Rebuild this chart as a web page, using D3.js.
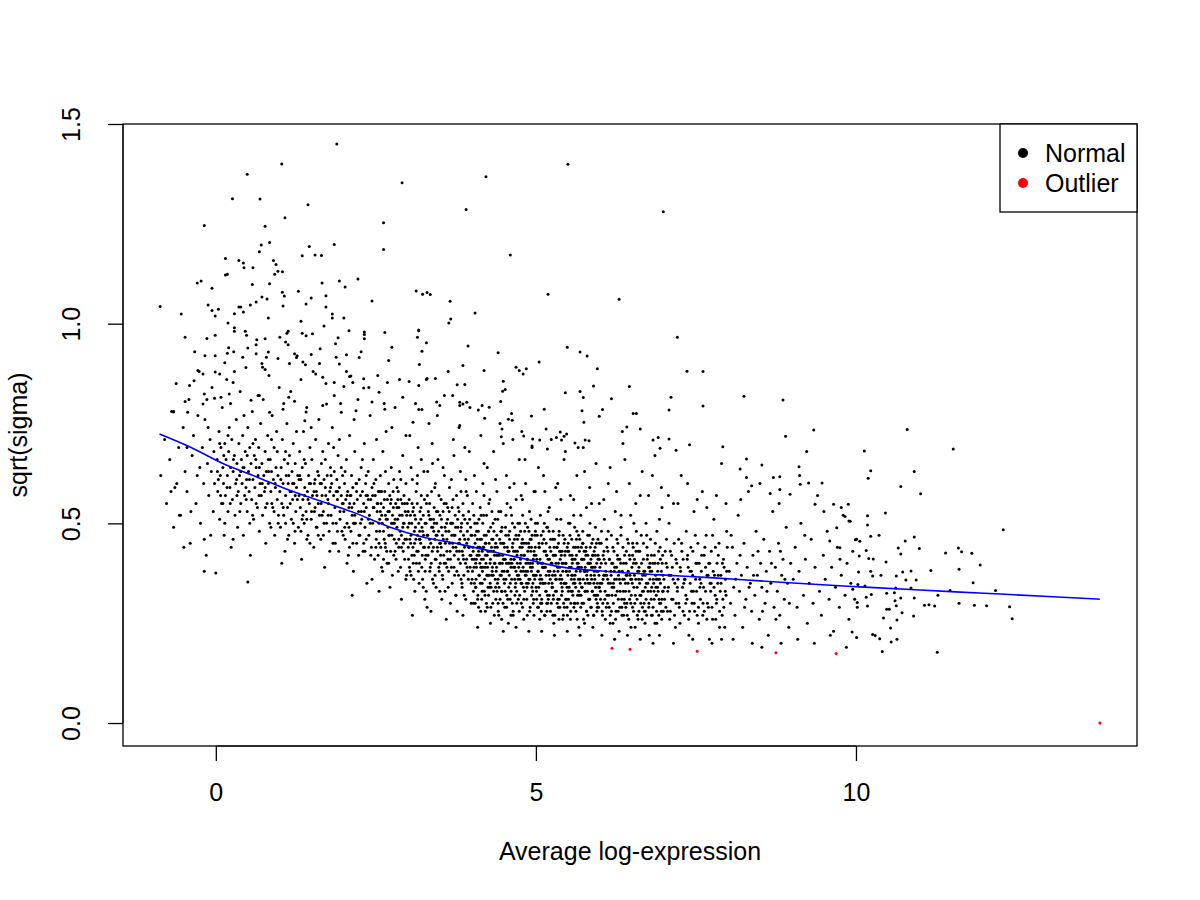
<!DOCTYPE html>
<html>
<head>
<meta charset="utf-8">
<script src="https://cdn.jsdelivr.net/npm/d3@7"></script>
<style>
  body { margin: 0; background: #fff; }
  text { font-family: "Liberation Sans", Arial, Helvetica, sans-serif; }
</style>
</head>
<body>
<div id="sa_plot"></div>
<script>
/* data: [average log-expression, sqrt(sigma)] */

// scattered genes well above the trend
var normalSparse = [
[1.89,1.450],[1.03,1.400],[0.49,1.374],[2.91,1.353],[0.26,1.313],[0.69,1.312],[1.44,1.298],[1.08,1.265],[-0.18,1.246],[0.77,1.244],
[2.62,1.253],[0.71,1.197],[0.84,1.203],[0.68,1.180],[1.46,1.193],[1.85,1.198],[2.62,1.186],[1.35,1.170],[1.55,1.172],[1.65,1.171],
[0.15,1.163],[0.36,1.158],[0.43,1.152],[0.44,1.140],[0.58,1.140],[0.90,1.158],[0.94,1.148],[0.15,1.122],[0.18,1.124],[-0.29,1.102],
[-0.23,1.107],[-0.06,1.089],[0.57,1.098],[0.84,1.100],[0.92,1.124],[0.97,1.131],[1.04,1.130],[1.66,1.102],[1.93,1.107],[2.02,1.092],
[2.22,1.112],[1.04,1.079],[1.07,1.069],[1.29,1.081],[1.49,1.064],[1.72,1.070],[2.44,1.057],[3.13,1.082],[3.23,1.074],[3.30,1.078],
[3.35,1.073],[3.66,1.056],[3.67,1.012],[3.64,1.002],[-0.87,1.043],[-0.54,1.024],[-0.12,1.047],[-0.06,1.033],[0.04,1.036],[-0.01,1.019],
[0.36,1.042],[0.39,1.042],[0.54,1.047],[0.63,1.054],[0.72,1.067],[0.80,1.062],[1.05,1.044],[1.41,1.049],[1.72,1.042],[0.29,1.025],
[0.43,1.029],[0.82,1.014],[1.33,1.006],[1.82,1.024],[1.82,1.014],[2.00,1.014],[1.69,0.994],[0.19,1.002],[-0.48,0.966],[-0.14,0.963],
[-0.01,0.971],[0.29,0.981],[0.46,0.981],[0.48,0.971],[0.77,0.962],[1.00,0.966],[1.11,0.976],[1.13,0.981],[1.35,0.976],[1.51,0.975],
[1.91,0.965],[2.08,0.982],[2.32,0.979],[2.32,0.973],[2.64,0.978],[3.17,0.982],[3.15,0.966],[3.29,0.952],
[5.50,1.399],[4.22,1.368],[3.91,1.286],[6.99,1.280],[4.60,1.172],[5.19,1.074],[6.30,1.061],[4.05,1.027],[7.21,0.966],
[10.80,0.735],[11.52,0.686],[10.13,0.681],[10.23,0.632],[10.19,0.613],[10.91,0.630],[10.70,0.592],[11.01,0.574],[10.46,0.526],[10.18,0.519],
[10.18,0.496],[12.30,0.484],[9.91,0.505],[9.99,0.459],[10.06,0.455],[10.23,0.468],[10.36,0.470],[10.91,0.466],[10.77,0.456],[10.16,0.432],
[10.66,0.438],[10.70,0.423],[10.99,0.437],[11.40,0.426],[11.60,0.438],[11.65,0.429],[11.81,0.425],[10.05,0.418],[10.20,0.412],[10.27,0.411],
[10.47,0.403],[11.94,0.396],[11.61,0.385],[11.17,0.382],[10.04,0.378],[10.23,0.380],[10.26,0.368],[10.39,0.370],[10.63,0.368],[10.73,0.378],
[10.86,0.381],[10.78,0.358],[10.94,0.358],[11.83,0.351],[10.03,0.347],[10.14,0.343],[10.62,0.338],[10.86,0.338],[11.47,0.332],[12.18,0.332],
[9.95,0.335],[10.24,0.322],[10.16,0.315],[10.48,0.325],[10.60,0.326],[10.70,0.313],[10.91,0.313],[11.28,0.320],[10.61,0.306],[10.63,0.294],
[10.02,0.302],[10.02,0.290],[10.18,0.293],[10.48,0.285],[10.52,0.285],[10.72,0.276],[10.90,0.268],[11.07,0.295],[11.14,0.296],[11.23,0.293],
[11.61,0.300],[11.85,0.295],[12.04,0.294],[12.40,0.291],[12.44,0.261],[10.43,0.263],[10.64,0.258],[10.54,0.238],[9.94,0.228],[10.01,0.214],
[10.26,0.222],[10.30,0.219],[10.37,0.211],[10.55,0.203],[10.64,0.210],[10.41,0.179],[11.27,0.177],
[3.94,0.944],[5.49,0.941],[4.41,0.927],[5.69,0.929],[5.80,0.919],[3.86,0.895],[4.19,0.883],[4.69,0.891],[4.74,0.883],[4.85,0.887],
[4.80,0.874],[5.05,0.904],[5.96,0.887],[7.36,0.881],[7.61,0.880],[3.89,0.848],[4.49,0.856],[4.52,0.835],[4.48,0.831],[5.46,0.827],
[5.69,0.830],[5.90,0.844],[6.46,0.843],[5.74,0.815],[6.18,0.812],[7.11,0.816],[8.25,0.818],[8.86,0.809],[4.45,0.805],[3.81,0.803],
[3.86,0.799],[3.92,0.803],[4.10,0.784],[4.16,0.795],[4.27,0.791],[4.57,0.761],[4.63,0.758],[4.62,0.775],[4.20,0.763],[4.93,0.769],
[5.13,0.786],[5.72,0.782],[6.04,0.785],[5.99,0.768],[6.52,0.775],[6.57,0.775],[7.08,0.784],[7.61,0.794],[5.75,0.753],[3.81,0.745],
[6.42,0.741],[6.35,0.730],[6.63,0.736],[9.34,0.734],[8.90,0.718],[4.47,0.736],[4.78,0.730],[5.16,0.736],[5.38,0.729],[5.48,0.724],
[4.46,0.717],[4.81,0.719],[4.95,0.711],[4.94,0.694],[5.06,0.709],[5.18,0.686],[5.32,0.715],[5.44,0.718],[5.40,0.709],[5.61,0.701],
[5.66,0.690],[5.77,0.709],[5.83,0.707],[6.83,0.709],[6.91,0.715],[7.08,0.711],[6.94,0.688],[7.19,0.683],[7.40,0.697],[7.92,0.692],
[9.23,0.680],[8.29,0.661],[8.19,0.636],[8.53,0.646],[9.11,0.642],[8.81,0.617],[8.71,0.615],[9.12,0.620],[9.26,0.601],[9.47,0.601],
[9.13,0.598],[8.29,0.615],[8.37,0.594],[8.66,0.575],[8.81,0.585],[8.97,0.573],[9.36,0.548],[9.65,0.548],[9.88,0.548],[9.77,0.540],
[9.83,0.517],[9.89,0.506],[9.70,0.489],[10.01,0.460],[9.59,0.456],[9.75,0.439],
[2.70,0.908],[2.75,0.941],[3.17,0.984],[3.22,0.931],[3.18,0.898],[3.02,0.855],[3.17,0.845],[3.30,0.863],[3.43,0.863],[3.77,0.847],
[3.70,0.820],[2.92,0.816],[2.55,0.828],[2.68,0.853],[2.31,0.862],[2.31,0.839],[2.09,0.868],[2.00,0.843],[1.85,0.853],[2.24,0.915],
[2.32,0.962],[2.44,0.804],[3.45,0.804],[3.50,0.795],[3.81,0.795],[3.17,0.785],[3.22,0.785],[3.08,0.753],[2.64,0.786],[2.19,0.782],
[1.96,0.778],[1.67,0.795],[1.73,0.799],[1.41,0.779],[1.39,0.757],[1.14,0.816],[1.23,0.806],[1.05,0.786],[0.84,0.778],[0.55,0.808],
[0.68,0.820],[0.21,0.824],[0.08,0.816],[-0.02,0.813],[-0.18,0.824],[-0.20,0.799],[-0.41,0.845],[-0.48,0.805],[-0.44,0.778],[-0.66,0.779],
[-0.28,0.883],[-0.20,0.874],[-0.34,0.857],[-0.17,0.920],[-0.01,0.879],[0.06,0.874],[0.14,0.902],[0.27,0.853],[0.29,0.880],[0.18,0.926],
[0.20,0.940],[0.42,0.916],[0.50,0.939],[0.63,0.925],[0.63,0.947],[0.73,0.891],[0.77,0.885],[0.82,0.929],[0.79,0.916],[0.97,0.913],
[1.09,0.954],[1.13,0.947],[1.23,0.925],[1.26,0.915],[1.36,0.904],[1.40,0.897],[1.56,0.874],[1.67,0.866],[1.49,0.923],[1.63,0.937],
[1.88,0.916],[1.93,0.899],[2.04,0.922],[2.11,0.869],[2.14,0.853],
[-0.66,0.78],[-0.64,0.59],[-0.57,0.52],[-0.18,0.46],[0.0,0.376],[0.5,0.353]
];

// main cloud around the trend
var normalCore = [
[-0.86,0.62],[-0.8,0.71],[-0.77,0.55],[-0.72,0.66],[-0.69,0.78],[-0.66,0.49],[-0.61,0.6],[-0.58,0.69],[-0.55,0.52],[-0.51,0.74],[-0.48,0.63],[-0.45,0.58],[-0.42,0.81],[-0.4,0.45],[-0.37,0.67],[-0.35,0.72],[-0.31,0.55],[-0.29,0.62],[-0.26,0.88],[-0.24,0.5],[-0.21,0.69],[-0.19,0.6],[-0.17,0.76],[-0.15,0.42],[-0.13,0.65],[-0.11,0.57],[-0.09,0.71],[-0.07,0.63],[-0.06,0.84],[-0.04,0.53],[-0.03,0.68],[-0.02,0.6],[-0.01,0.92],[-0.33,0.93],[-0.62,0.85],[-0.18,0.38],[-0.5,0.44],[-0.28,0.77],[-0.08,0.47],[-0.45,0.69],[-0.14,0.81],[-0.7,0.58],[-0.25,0.64],[-0.39,0.53],[-0.12,0.74],
[0.02,0.66],[0.03,0.58],[0.05,0.73],[0.06,0.51],[0.07,0.62],[0.08,0.69],[0.09,0.55],[0.1,0.79],[0.11,0.64],[0.12,0.6],[0.13,0.47],[0.14,0.7],[0.15,0.57],[0.16,0.66],[0.17,0.86],[0.18,0.62],[0.19,0.53],[0.2,0.68],[0.21,0.74],[0.22,0.59],[0.23,0.64],[0.24,0.44],[0.25,0.71],[0.26,0.56],[0.27,0.63],[0.28,0.93],[0.29,0.67],[0.3,0.52],[0.31,0.6],[0.32,0.76],[0.33,0.65],[0.34,0.49],[0.35,0.58],[0.36,0.7],[0.37,0.62],[0.38,0.83],[0.39,0.55],[0.4,0.66],[0.41,0.6],[0.42,0.72],[0.43,0.47],[0.44,0.64],[0.45,0.57],[0.46,0.68],[0.47,0.89],[0.48,0.61],[0.49,0.53],[0.5,0.74],[0.51,0.63],[0.52,0.58],[0.53,0.69],[0.54,0.42],[0.55,0.65],[0.56,0.56],[0.57,0.78],[0.58,0.61],[0.59,0.51],[0.6,0.67],[0.61,0.59],[0.62,0.71],[0.63,0.64],[0.64,0.96],[0.65,0.54],[0.66,0.62],[0.67,0.69],[0.68,0.48],[0.69,0.6],[0.7,0.75],[0.71,0.57],[0.72,0.65],[0.73,0.52],[0.74,0.81],[0.75,0.62],[0.76,0.58],[0.77,0.68],[0.78,0.45],[0.79,0.63],[0.8,0.55],[0.81,0.72],[0.82,0.6],[0.83,0.87],[0.84,0.5],[0.85,0.66],[0.86,0.58],[0.87,0.63],[0.88,0.77],[0.89,0.54],[0.9,0.61],[0.91,0.69],[0.92,0.47],[0.93,0.59],[0.94,0.64],[0.95,0.73],[0.96,0.56],[0.97,0.62],[0.98,0.52],[0.99,0.84],
[0.04,0.61],[0.14,0.5],[0.23,0.8],[0.33,0.57],[0.44,0.77],[0.53,0.5],[0.63,0.55],[0.72,0.9],[0.82,0.66],[0.91,0.53],[0.19,0.72],[0.39,0.63],[0.58,0.7],[0.77,0.59],[0.96,0.68],[0.11,0.55],[0.29,0.99],[0.49,0.67],[0.68,0.64],[0.87,0.71],[0.06,0.7],[0.27,0.46],[0.47,0.59],[0.66,0.82],[0.86,0.49],
[1.0,0.58],[1.01,0.49],[1.02,0.64],[1.03,0.55],[1.04,0.71],[1.05,0.6],[1.06,0.52],[1.07,0.66],[1.08,0.43],[1.09,0.57],[1.1,0.62],[1.11,0.75],[1.12,0.54],[1.13,0.6],[1.14,0.47],[1.15,0.67],[1.16,0.58],[1.17,0.83],[1.18,0.51],[1.19,0.63],[1.2,0.56],[1.21,0.7],[1.22,0.6],[1.23,0.45],[1.24,0.65],[1.25,0.53],[1.26,0.59],[1.27,0.92],[1.28,0.62],[1.29,0.49],[1.3,0.57],[1.31,0.68],[1.32,0.54],[1.33,0.61],[1.34,0.41],[1.35,0.64],[1.36,0.56],[1.37,0.73],[1.38,0.5],[1.39,0.59],[1.4,0.65],[1.41,0.53],[1.42,0.79],[1.43,0.58],[1.44,0.47],[1.45,0.62],[1.46,0.55],[1.47,0.69],[1.48,0.6],[1.49,0.51],[1.5,0.66],[1.51,0.57],[1.52,0.88],[1.53,0.44],[1.54,0.6],[1.55,0.54],[1.56,0.71],[1.57,0.58],[1.58,0.49],[1.59,0.63],[1.6,0.55],[1.61,0.76],[1.62,0.52],[1.63,0.6],[1.64,0.46],[1.65,0.65],[1.66,0.57],[1.67,0.68],[1.68,0.53],[1.69,0.61],[1.7,0.39],[1.71,0.59],[1.72,0.85],[1.73,0.5],[1.74,0.62],[1.75,0.56],[1.76,0.7],[1.77,0.48],[1.78,0.58],[1.79,0.64],[1.8,0.52],[1.81,0.6],[1.82,0.74],[1.83,0.45],[1.84,0.57],[1.85,0.63],[1.86,0.54],[1.87,0.95],[1.88,0.5],[1.89,0.61],[1.9,0.56],[1.91,0.67],[1.92,0.43],[1.93,0.59],[1.94,0.53],[1.95,0.8],[1.96,0.57],[1.97,0.48],[1.98,0.62],[1.99,0.55],
[1.03,0.4],[1.09,0.68],[1.14,0.62],[1.21,0.5],[1.26,0.73],[1.33,0.48],[1.38,0.66],[1.44,0.56],[1.49,0.74],[1.55,0.61],[1.6,0.47],[1.66,0.52],[1.71,0.66],[1.78,0.43],[1.84,0.69],[1.9,0.48],[1.96,0.64],[1.06,0.8],[1.18,0.58],[1.3,0.61],[1.42,0.51],[1.54,0.53],[1.65,0.6],[1.76,0.55],[1.88,0.58],[1.99,0.47],[1.12,0.46],[1.36,0.52],[1.58,0.57],[1.8,0.62],[1.24,0.57],[1.47,0.45],[1.69,0.5],[1.93,0.71],[1.41,0.97],[1.62,0.9],[1.15,0.9],[1.85,0.82],[1.33,0.86],
[2.0,0.53],[2.01,0.6],[2.02,0.46],[2.03,0.56],[2.04,0.66],[2.05,0.5],[2.06,0.58],[2.07,0.42],[2.08,0.54],[2.09,0.72],[2.1,0.57],[2.11,0.48],[2.12,0.62],[2.13,0.52],[2.14,0.59],[2.15,0.38],[2.16,0.55],[2.17,0.68],[2.18,0.5],[2.19,0.6],[2.2,0.45],[2.21,0.56],[2.22,0.81],[2.23,0.53],[2.24,0.61],[2.25,0.47],[2.26,0.57],[2.27,0.64],[2.28,0.51],[2.29,0.58],[2.3,0.43],[2.31,0.55],[2.32,0.7],[2.33,0.49],[2.34,0.6],[2.35,0.54],[2.36,0.35],[2.37,0.57],[2.38,0.63],[2.39,0.47],[2.4,0.52],[2.41,0.77],[2.42,0.56],[2.43,0.44],[2.44,0.59],[2.45,0.5],[2.46,0.66],[2.47,0.54],[2.48,0.41],[2.49,0.57],[2.5,0.61],[2.51,0.48],[2.52,0.53],[2.53,0.87],[2.54,0.58],[2.55,0.45],[2.56,0.51],[2.57,0.62],[2.58,0.55],[2.59,0.39],[2.6,0.5],[2.61,0.68],[2.62,0.54],[2.63,0.46],[2.64,0.58],[2.65,0.52],[2.66,0.73],[2.67,0.43],[2.68,0.56],[2.69,0.49],[2.7,0.6],[2.71,0.53],[2.72,0.34],[2.73,0.55],[2.74,0.64],[2.75,0.47],[2.76,0.52],[2.77,0.58],[2.78,0.42],[2.79,0.5],[2.8,0.79],[2.81,0.55],[2.82,0.45],[2.83,0.59],[2.84,0.51],[2.85,0.38],[2.86,0.54],[2.87,0.63],[2.88,0.48],[2.89,0.56],[2.9,0.44],[2.91,0.52],[2.92,0.67],[2.93,0.5],[2.94,0.57],[2.95,0.41],[2.96,0.53],[2.97,0.6],[2.98,0.46],[2.99,0.55],
[2.02,0.63],[2.05,0.4],[2.08,0.49],[2.11,0.57],[2.14,0.45],[2.17,0.52],[2.2,0.6],[2.23,0.42],[2.26,0.5],[2.29,0.66],[2.32,0.53],[2.35,0.46],[2.38,0.56],[2.41,0.5],[2.44,0.36],[2.47,0.6],[2.5,0.44],[2.53,0.55],[2.56,0.48],[2.59,0.58],[2.62,0.41],[2.65,0.63],[2.68,0.51],[2.71,0.47],[2.74,0.56],[2.77,0.5],[2.8,0.43],[2.83,0.54],[2.86,0.46],[2.89,0.61],[2.92,0.49],[2.95,0.55],[2.98,0.37],[2.04,0.88],[2.16,0.76],[2.27,0.93],[2.39,0.84],[2.51,0.71],[2.63,0.8],[2.75,0.74],[2.87,0.86],[2.97,0.72],[2.13,0.32],[2.55,0.33],[2.9,0.31],[2.45,0.57],[2.65,0.44],[2.85,0.58],[2.35,0.62],[2.15,0.5],[2.7,0.4],[2.93,0.45],[2.57,0.53],[2.09,0.55],[2.33,0.43],[2.78,0.61],
[3.0,0.49],[3.01,0.41],[3.02,0.56],[3.03,0.46],[3.04,0.52],[3.05,0.37],[3.06,0.5],[3.07,0.61],[3.08,0.44],[3.09,0.54],[3.1,0.48],[3.11,0.33],[3.12,0.51],[3.13,0.58],[3.14,0.43],[3.15,0.47],[3.16,0.69],[3.17,0.5],[3.18,0.4],[3.19,0.53],[3.2,0.45],[3.21,0.57],[3.22,0.49],[3.23,0.36],[3.24,0.52],[3.25,0.63],[3.26,0.44],[3.27,0.5],[3.28,0.42],[3.29,0.55],[3.3,0.29],[3.31,0.47],[3.32,0.53],[3.33,0.75],[3.34,0.46],[3.35,0.39],[3.36,0.51],[3.37,0.58],[3.38,0.43],[3.39,0.49],[3.4,0.35],[3.41,0.54],[3.42,0.46],[3.43,0.6],[3.44,0.41],[3.45,0.5],[3.46,0.44],[3.47,0.66],[3.48,0.48],[3.49,0.38],[3.5,0.52],[3.51,0.45],[3.52,0.56],[3.53,0.31],[3.54,0.47],[3.55,0.53],[3.56,0.42],[3.57,0.82],[3.58,0.49],[3.59,0.4],[3.6,0.55],[3.61,0.46],[3.62,0.51],[3.63,0.34],[3.64,0.48],[3.65,0.59],[3.66,0.43],[3.67,0.5],[3.68,0.39],[3.69,0.54],[3.7,0.45],[3.71,0.71],[3.72,0.47],[3.73,0.37],[3.74,0.52],[3.75,0.44],[3.76,0.57],[3.77,0.28],[3.78,0.49],[3.79,0.41],[3.8,0.53],[3.81,0.46],[3.82,0.63],[3.83,0.36],[3.84,0.5],[3.85,0.43],[3.86,0.55],[3.87,0.47],[3.88,0.32],[3.89,0.51],[3.9,0.4],[3.91,0.58],[3.92,0.45],[3.93,0.48],[3.94,0.38],[3.95,0.53],[3.96,0.68],[3.97,0.42],[3.98,0.49],[3.99,0.35],
[3.005,0.53],[3.025,0.39],[3.045,0.45],[3.065,0.55],[3.085,0.4],[3.105,0.52],[3.125,0.46],[3.145,0.6],[3.165,0.38],[3.185,0.48],[3.205,0.54],[3.225,0.42],[3.245,0.47],[3.265,0.31],[3.285,0.5],[3.305,0.57],[3.325,0.44],[3.345,0.51],[3.365,0.4],[3.385,0.65],[3.405,0.48],[3.425,0.37],[3.445,0.53],[3.465,0.43],[3.485,0.57],[3.505,0.4],[3.525,0.49],[3.545,0.36],[3.565,0.55],[3.585,0.45],[3.605,0.5],[3.625,0.41],[3.645,0.53],[3.665,0.3],[3.685,0.47],[3.705,0.56],[3.725,0.42],[3.745,0.49],[3.765,0.38],[3.785,0.54],[3.805,0.43],[3.825,0.48],[3.845,0.35],[3.865,0.52],[3.885,0.44],[3.905,0.61],[3.925,0.39],[3.945,0.46],[3.965,0.51],[3.985,0.42],
[3.03,0.72],[3.12,0.8],[3.21,0.66],[3.29,0.86],[3.38,0.7],[3.46,0.77],[3.55,0.64],[3.63,0.88],[3.72,0.67],[3.8,0.74],[3.89,0.69],[3.97,0.79],[3.07,0.27],[3.36,0.28],[3.6,0.26],[3.86,0.27],[3.15,0.62],[3.42,0.59],[3.68,0.61],[3.93,0.57],[3.1,0.42],[3.18,0.46],[3.27,0.38],[3.34,0.55],[3.44,0.47],[3.52,0.44],[3.61,0.39],[3.7,0.5],[3.79,0.45],[3.87,0.41],[3.95,0.44],[3.05,0.64],[3.31,0.63],[3.57,0.62],[3.83,0.58],[3.24,0.34],[3.5,0.33],[3.75,0.32],[3.99,0.3],[3.4,0.51],
[4.0,0.47],[4.01,0.38],[4.02,0.43],[4.03,0.52],[4.04,0.35],[4.05,0.45],[4.06,0.4],[4.07,0.58],[4.08,0.42],[4.09,0.31],[4.1,0.48],[4.11,0.37],[4.12,0.44],[4.13,0.54],[4.14,0.39],[4.15,0.46],[4.16,0.33],[4.17,0.5],[4.18,0.41],[4.19,0.65],[4.2,0.36],[4.21,0.45],[4.22,0.4],[4.23,0.52],[4.24,0.29],[4.25,0.43],[4.26,0.48],[4.27,0.37],[4.28,0.56],[4.29,0.41],[4.3,0.34],[4.31,0.46],[4.32,0.39],[4.33,0.5],[4.34,0.43],[4.35,0.27],[4.36,0.44],[4.37,0.61],[4.38,0.38],[4.39,0.47],[4.4,0.35],[4.41,0.42],[4.42,0.53],[4.43,0.4],[4.44,0.31],[4.45,0.45],[4.46,0.37],[4.47,0.49],[4.48,0.42],[4.49,0.7],[4.5,0.36],[4.51,0.44],[4.52,0.33],[4.53,0.47],[4.54,0.4],[4.55,0.55],[4.56,0.38],[4.57,0.25],[4.58,0.43],[4.59,0.48],[4.6,0.35],[4.61,0.41],[4.62,0.52],[4.63,0.3],[4.64,0.45],[4.65,0.39],[4.66,0.6],[4.67,0.36],[4.68,0.43],[4.69,0.47],[4.7,0.33],[4.71,0.4],[4.72,0.5],[4.73,0.37],[4.74,0.28],[4.75,0.44],[4.76,0.41],[4.77,0.57],[4.78,0.35],[4.79,0.46],[4.8,0.39],[4.81,0.31],[4.82,0.42],[4.83,0.66],[4.84,0.38],[4.85,0.45],[4.86,0.34],[4.87,0.49],[4.88,0.4],[4.89,0.36],[4.9,0.53],[4.91,0.29],[4.92,0.43],[4.93,0.38],[4.94,0.47],[4.95,0.33],[4.96,0.41],[4.97,0.58],[4.98,0.37],[4.99,0.44],
[4.005,0.41],[4.025,0.33],[4.045,0.5],[4.065,0.36],[4.085,0.46],[4.105,0.29],[4.125,0.4],[4.145,0.52],[4.165,0.38],[4.185,0.44],[4.205,0.32],[4.225,0.47],[4.245,0.39],[4.265,0.55],[4.285,0.35],[4.305,0.43],[4.325,0.3],[4.345,0.48],[4.365,0.36],[4.385,0.42],[4.405,0.51],[4.425,0.34],[4.445,0.4],[4.465,0.26],[4.485,0.45],[4.505,0.38],[4.525,0.49],[4.545,0.32],[4.565,0.43],[4.585,0.37],[4.605,0.54],[4.625,0.4],[4.645,0.28],[4.665,0.46],[4.685,0.35],[4.705,0.42],[4.725,0.31],[4.745,0.5],[4.765,0.38],[4.785,0.44],[4.805,0.34],[4.825,0.48],[4.845,0.4],[4.865,0.27],[4.885,0.45],[4.905,0.36],[4.925,0.51],[4.945,0.39],[4.965,0.31],[4.985,0.47],
[4.012,0.55],[4.052,0.3],[4.092,0.44],[4.132,0.35],[4.172,0.6],[4.212,0.42],[4.252,0.34],[4.292,0.49],[4.332,0.37],[4.372,0.45],[4.412,0.28],[4.452,0.53],[4.492,0.41],[4.532,0.36],[4.572,0.47],[4.612,0.33],[4.652,0.43],[4.692,0.56],[4.732,0.39],[4.772,0.3],[4.812,0.45],[4.852,0.35],[4.892,0.48],[4.932,0.32],[4.972,0.42],
[4.033,0.39],[4.073,0.48],[4.113,0.42],[4.153,0.31],[4.193,0.47],[4.233,0.37],[4.273,0.43],[4.313,0.53],[4.353,0.4],[4.393,0.33],[4.433,0.46],[4.473,0.38],[4.513,0.29],[4.553,0.44],[4.593,0.4],[4.633,0.5],[4.673,0.32],[4.713,0.46],[4.753,0.36],[4.793,0.52],[4.833,0.37],[4.873,0.43],[4.913,0.4],[4.953,0.35],[4.993,0.5],
[4.04,0.62],[4.14,0.72],[4.24,0.64],[4.34,0.68],[4.44,0.75],[4.54,0.62],[4.64,0.71],[4.74,0.66],[4.84,0.6],[4.94,0.69],[4.09,0.24],[4.29,0.25],[4.49,0.23],[4.69,0.24],[4.89,0.23],[4.19,0.57],[4.39,0.58],[4.59,0.59],[4.79,0.56],[4.99,0.58],[4.06,0.34],[4.16,0.43],[4.26,0.32],[4.36,0.4],[4.46,0.48],[4.56,0.31],[4.66,0.41],[4.76,0.48],[4.86,0.41],[4.96,0.37],[4.11,0.51],[4.31,0.37],[4.51,0.41],[4.71,0.37],[4.91,0.46],[4.21,0.28],[4.41,0.3],[4.61,0.27],[4.81,0.26],[4.97,0.27],[4.07,0.41],[4.27,0.45],[4.47,0.33],[4.67,0.39],[4.87,0.38],[4.17,0.39],[4.37,0.34],[4.57,0.4],[4.77,0.42],[4.93,0.44],
[5.0,0.42],[5.01,0.33],[5.02,0.47],[5.03,0.38],[5.04,0.29],[5.05,0.44],[5.06,0.36],[5.07,0.52],[5.08,0.4],[5.09,0.31],[5.1,0.45],[5.11,0.35],[5.12,0.62],[5.13,0.39],[5.14,0.27],[5.15,0.43],[5.16,0.37],[5.17,0.49],[5.18,0.32],[5.19,0.41],[5.2,0.35],[5.21,0.54],[5.22,0.38],[5.23,0.46],[5.24,0.3],[5.25,0.4],[5.26,0.34],[5.27,0.48],[5.28,0.25],[5.29,0.42],[5.3,0.37],[5.31,0.59],[5.32,0.33],[5.33,0.44],[5.34,0.39],[5.35,0.29],[5.36,0.47],[5.37,0.36],[5.38,0.41],[5.39,0.51],[5.4,0.32],[5.41,0.43],[5.42,0.38],[5.43,0.27],[5.44,0.45],[5.45,0.35],[5.46,0.68],[5.47,0.4],[5.48,0.31],[5.49,0.44],[5.5,0.37],[5.51,0.5],[5.52,0.34],[5.53,0.42],[5.54,0.26],[5.55,0.39],[5.56,0.46],[5.57,0.33],[5.58,0.41],[5.59,0.56],[5.6,0.36],[5.61,0.3],[5.62,0.44],[5.63,0.38],[5.64,0.48],[5.65,0.32],[5.66,0.4],[5.67,0.24],[5.68,0.43],[5.69,0.35],[5.7,0.52],[5.71,0.39],[5.72,0.3],[5.73,0.45],[5.74,0.36],[5.75,0.41],[5.76,0.63],[5.77,0.33],[5.78,0.42],[5.79,0.28],[5.8,0.38],[5.81,0.47],[5.82,0.35],[5.83,0.4],[5.84,0.31],[5.85,0.44],[5.86,0.37],[5.87,0.55],[5.88,0.33],[5.89,0.39],[5.9,0.27],[5.91,0.43],[5.92,0.36],[5.93,0.49],[5.94,0.31],[5.95,0.4],[5.96,0.35],[5.97,0.46],[5.98,0.29],[5.99,0.41],
[5.005,0.37],[5.025,0.5],[5.045,0.34],[5.065,0.41],[5.085,0.28],[5.105,0.39],[5.125,0.46],[5.145,0.35],[5.165,0.42],[5.185,0.3],[5.205,0.48],[5.225,0.36],[5.245,0.4],[5.265,0.27],[5.285,0.44],[5.305,0.33],[5.325,0.51],[5.345,0.38],[5.365,0.31],[5.385,0.43],[5.405,0.36],[5.425,0.47],[5.445,0.29],[5.465,0.4],[5.485,0.34],[5.505,0.45],[5.525,0.38],[5.545,0.3],[5.565,0.42],[5.585,0.35],[5.605,0.49],[5.625,0.28],[5.645,0.4],[5.665,0.36],[5.685,0.46],[5.705,0.32],[5.725,0.41],[5.745,0.26],[5.765,0.38],[5.785,0.44],[5.805,0.33],[5.825,0.4],[5.845,0.5],[5.865,0.29],[5.885,0.42],[5.905,0.35],[5.925,0.39],[5.945,0.45],[5.965,0.32],[5.985,0.37],
[5.012,0.31],[5.052,0.44],[5.092,0.36],[5.132,0.5],[5.172,0.28],[5.212,0.41],[5.252,0.35],[5.292,0.46],[5.332,0.3],[5.372,0.39],[5.412,0.33],[5.452,0.42],[5.492,0.27],[5.532,0.47],[5.572,0.37],[5.612,0.41],[5.652,0.3],[5.692,0.38],[5.732,0.48],[5.772,0.35],[5.812,0.27],[5.852,0.4],[5.892,0.46],[5.932,0.34],[5.972,0.42],
[5.033,0.4],[5.073,0.3],[5.113,0.48],[5.153,0.33],[5.193,0.38],[5.233,0.43],[5.273,0.31],[5.313,0.4],[5.353,0.45],[5.393,0.35],[5.433,0.3],[5.473,0.38],[5.513,0.43],[5.553,0.33],[5.593,0.29],[5.633,0.46],[5.673,0.39],[5.713,0.34],[5.753,0.43],[5.793,0.37],[5.833,0.31],[5.873,0.45],[5.913,0.38],[5.953,0.28],[5.993,0.34],
[5.04,0.64],[5.14,0.58],[5.24,0.71],[5.34,0.6],[5.44,0.66],[5.54,0.57],[5.64,0.62],[5.74,0.69],[5.84,0.59],[5.94,0.65],[5.09,0.23],[5.29,0.22],[5.49,0.23],[5.69,0.22],[5.89,0.24],[5.19,0.53],[5.39,0.56],[5.59,0.52],[5.79,0.54],[5.99,0.55],[5.06,0.26],[5.16,0.45],[5.26,0.37],[5.36,0.26],[5.46,0.43],[5.56,0.37],[5.66,0.44],[5.76,0.25],[5.86,0.41],[5.96,0.3],[5.11,0.39],[5.31,0.36],[5.51,0.31],[5.71,0.44],[5.91,0.32],[5.21,0.32],[5.41,0.4],[5.61,0.35],[5.81,0.42],[5.97,0.38],[5.07,0.35],[5.27,0.42],[5.47,0.35],[5.67,0.33],[5.87,0.36],[5.17,0.3],[5.37,0.43],[5.57,0.4],[5.77,0.39],[5.93,0.42],
[6.0,0.39],[6.01,0.31],[6.02,0.45],[6.03,0.35],[6.04,0.27],[6.05,0.42],[6.06,0.37],[6.07,0.51],[6.08,0.33],[6.09,0.4],[6.1,0.29],[6.11,0.44],[6.12,0.36],[6.13,0.6],[6.14,0.32],[6.15,0.41],[6.16,0.25],[6.17,0.38],[6.18,0.47],[6.19,0.34],[6.2,0.4],[6.21,0.3],[6.22,0.43],[6.23,0.36],[6.24,0.53],[6.25,0.28],[6.26,0.39],[6.27,0.33],[6.28,0.45],[6.29,0.37],[6.3,0.23],[6.31,0.41],[6.32,0.35],[6.33,0.49],[6.34,0.31],[6.35,0.38],[6.36,0.44],[6.37,0.27],[6.38,0.36],[6.39,0.66],[6.4,0.33],[6.41,0.4],[6.42,0.3],[6.43,0.46],[6.44,0.35],[6.45,0.26],[6.46,0.42],[6.47,0.37],[6.48,0.52],[6.49,0.32],[6.5,0.39],[6.51,0.29],[6.52,0.44],[6.53,0.34],[6.54,0.41],[6.55,0.24],[6.56,0.36],[6.57,0.48],[6.58,0.31],[6.59,0.38],[6.6,0.43],[6.61,0.28],[6.62,0.35],[6.63,0.57],[6.64,0.32],[6.65,0.4],[6.66,0.26],[6.67,0.37],[6.68,0.45],[6.69,0.3],[6.7,0.38],[6.71,0.34],[6.72,0.5],[6.73,0.27],[6.74,0.41],[6.75,0.33],[6.76,0.39],[6.77,0.22],[6.78,0.36],[6.79,0.46],[6.8,0.31],[6.81,0.38],[6.82,0.62],[6.83,0.29],[6.84,0.35],[6.85,0.42],[6.86,0.25],[6.87,0.37],[6.88,0.32],[6.89,0.48],[6.9,0.34],[6.91,0.4],[6.92,0.27],[6.93,0.36],[6.94,0.44],[6.95,0.3],[6.96,0.38],[6.97,0.54],[6.98,0.33],[6.99,0.28],
[6.005,0.35],[6.025,0.48],[6.045,0.3],[6.065,0.41],[6.085,0.26],[6.105,0.37],[6.125,0.43],[6.145,0.29],[6.165,0.35],[6.185,0.4],[6.205,0.25],[6.225,0.38],[6.245,0.32],[6.265,0.46],[6.285,0.28],[6.305,0.36],[6.325,0.4],[6.345,0.27],[6.365,0.33],[6.385,0.42],[6.405,0.29],[6.425,0.37],[6.445,0.45],[6.465,0.31],[6.485,0.24],[6.505,0.35],[6.525,0.4],[6.545,0.3],[6.565,0.43],[6.585,0.27],[6.605,0.36],[6.625,0.32],[6.645,0.47],[6.665,0.29],[6.685,0.38],[6.705,0.25],[6.725,0.35],[6.745,0.42],[6.765,0.3],[6.785,0.38],[6.805,0.27],[6.825,0.4],[6.845,0.33],[6.865,0.45],[6.885,0.28],[6.905,0.36],[6.925,0.31],[6.945,0.41],[6.965,0.26],[6.985,0.37],
[6.06,0.56],[6.16,0.64],[6.26,0.58],[6.36,0.7],[6.46,0.6],[6.56,0.55],[6.66,0.63],[6.76,0.57],[6.86,0.67],[6.96,0.59],[6.03,0.22],[6.23,0.21],[6.43,0.22],[6.63,0.21],[6.83,0.2],[6.93,0.22],[6.13,0.48],[6.33,0.52],[6.53,0.5],[6.73,0.47],[6.93,0.51],[6.08,0.37],[6.18,0.28],[6.28,0.41],[6.38,0.31],[6.48,0.36],[6.58,0.45],[6.68,0.33],[6.78,0.4],[6.88,0.36],[6.98,0.42],[6.11,0.32],[6.31,0.29],[6.51,0.42],[6.71,0.28],[6.91,0.33],[6.21,0.35],[6.41,0.37],[6.61,0.39],[6.81,0.34],[6.97,0.31],
[7.0,0.36],[7.02,0.43],[7.03,0.29],[7.05,0.39],[7.06,0.33],[7.08,0.5],[7.09,0.26],[7.11,0.37],[7.12,0.42],[7.14,0.31],[7.15,0.55],[7.17,0.35],[7.18,0.24],[7.2,0.4],[7.21,0.33],[7.23,0.46],[7.24,0.29],[7.26,0.38],[7.27,0.62],[7.29,0.34],[7.3,0.41],[7.32,0.27],[7.33,0.36],[7.35,0.48],[7.36,0.31],[7.38,0.39],[7.39,0.22],[7.41,0.35],[7.42,0.44],[7.44,0.3],[7.45,0.37],[7.47,0.53],[7.48,0.28],[7.5,0.4],[7.51,0.33],[7.53,0.45],[7.54,0.25],[7.56,0.36],[7.57,0.31],[7.59,0.42],[7.6,0.58],[7.62,0.34],[7.63,0.28],[7.65,0.39],[7.66,0.47],[7.68,0.3],[7.69,0.37],[7.71,0.21],[7.72,0.35],[7.74,0.43],[7.75,0.29],[7.77,0.38],[7.78,0.51],[7.8,0.32],[7.81,0.26],[7.83,0.4],[7.84,0.35],[7.86,0.45],[7.87,0.28],[7.89,0.37],[7.9,0.65],[7.92,0.31],[7.93,0.41],[7.95,0.24],[7.96,0.36],[7.98,0.48],
[7.01,0.31],[7.04,0.46],[7.07,0.34],[7.1,0.28],[7.13,0.39],[7.16,0.45],[7.19,0.3],[7.22,0.36],[7.25,0.25],[7.28,0.43],[7.31,0.35],[7.34,0.3],[7.37,0.42],[7.4,0.28],[7.43,0.38],[7.46,0.33],[7.49,0.47],[7.52,0.27],[7.55,0.4],[7.58,0.35],[7.61,0.3],[7.64,0.44],[7.67,0.26],[7.7,0.4],[7.73,0.33],[7.76,0.47],[7.79,0.37],[7.82,0.3],[7.85,0.42],[7.88,0.33],[7.91,0.27],[7.94,0.39],[7.97,0.32],[7.99,0.44],[7.07,0.57],[7.22,0.55],[7.37,0.6],[7.52,0.56],[7.67,0.54],[7.82,0.57],[7.97,0.55],[7.15,0.2],[7.45,0.21],[7.75,0.2],[7.9,0.21],
[8.02,0.38],[8.04,0.3],[8.07,0.44],[8.09,0.34],[8.11,0.27],[8.14,0.4],[8.16,0.52],[8.18,0.33],[8.21,0.37],[8.23,0.24],[8.25,0.45],[8.28,0.31],[8.3,0.39],[8.32,0.58],[8.35,0.35],[8.37,0.28],[8.39,0.42],[8.42,0.32],[8.44,0.48],[8.46,0.37],[8.49,0.26],[8.51,0.4],[8.53,0.34],[8.56,0.46],[8.58,0.3],[8.6,0.38],[8.63,0.22],[8.65,0.43],[8.67,0.35],[8.7,0.53],[8.72,0.29],[8.74,0.39],[8.77,0.33],[8.79,0.45],[8.81,0.27],[8.84,0.37],[8.86,0.41],[8.88,0.31],[8.91,0.49],[8.93,0.35],[8.95,0.24],[8.98,0.4],
[8.05,0.47],[8.12,0.36],[8.19,0.42],[8.26,0.29],[8.33,0.34],[8.4,0.37],[8.47,0.43],[8.54,0.28],[8.61,0.33],[8.68,0.4],[8.75,0.26],[8.82,0.43],[8.89,0.36],[8.96,0.3],[8.08,0.21],[8.38,0.2],[8.53,0.19],[8.83,0.2],[8.2,0.56],[8.5,0.6],[8.8,0.55],
[9.02,0.36],[9.05,0.44],[9.08,0.29],[9.11,0.38],[9.14,0.5],[9.18,0.32],[9.21,0.41],[9.24,0.25],[9.27,0.35],[9.3,0.46],[9.33,0.3],[9.36,0.39],[9.4,0.57],[9.43,0.33],[9.46,0.27],[9.49,0.42],[9.52,0.36],[9.55,0.48],[9.58,0.31],[9.62,0.39],[9.65,0.23],[9.68,0.34],[9.71,0.44],[9.74,0.29],[9.77,0.37],[9.8,0.52],[9.83,0.32],[9.86,0.4],[9.89,0.26],[9.92,0.35],[9.95,0.43],[9.98,0.31],[9.09,0.21],[9.35,0.2],[9.6,0.22],[9.85,0.19],[9.2,0.47],[9.5,0.53],[9.75,0.41]
];

// the solid-black heart of the cloud
var normalDense = [
[0.025,0.63],[0.075,0.57],[0.125,0.67],[0.175,0.59],[0.225,0.55],[0.275,0.66],[0.325,0.61],[0.375,0.53],[0.425,0.64],[0.475,0.56],[0.525,0.61],[0.575,0.52],[0.625,0.66],[0.675,0.57],[0.725,0.6],[0.775,0.54],[0.825,0.63],[0.875,0.55],[0.925,0.6],[0.975,0.5],
[1.015,0.61],[1.052,0.54],[1.089,0.5],[1.126,0.65],[1.163,0.55],[1.2,0.6],[1.237,0.48],[1.274,0.56],[1.311,0.62],[1.348,0.51],[1.385,0.57],[1.422,0.46],[1.459,0.6],[1.496,0.53],[1.533,0.58],[1.57,0.49],[1.607,0.62],[1.644,0.55],[1.681,0.47],[1.718,0.57],[1.755,0.52],[1.792,0.59],[1.829,0.5],[1.866,0.45],[1.903,0.58],[1.94,0.51],[1.977,0.55],[2.014,0.49],[2.051,0.57],[2.088,0.44],[2.125,0.54],[2.162,0.5],[2.199,0.58],[2.236,0.47],[2.273,0.53],[2.31,0.45],[2.347,0.57],[2.384,0.51],[2.421,0.42],[2.458,0.54],
[2.507,0.46],[2.521,0.55],[2.535,0.42],[2.549,0.5],[2.563,0.58],[2.577,0.44],[2.591,0.52],[2.605,0.38],[2.619,0.48],[2.633,0.56],[2.647,0.45],[2.661,0.51],[2.675,0.4],[2.689,0.53],[2.703,0.47],[2.717,0.57],[2.731,0.43],[2.745,0.5],[2.759,0.37],[2.773,0.54],[2.787,0.46],[2.801,0.51],[2.815,0.41],[2.829,0.49],[2.843,0.56],[2.857,0.44],[2.871,0.52],[2.885,0.39],[2.899,0.47],[2.913,0.55],[2.927,0.43],[2.941,0.5],[2.955,0.46],[2.969,0.36],[2.983,0.52],
[3.007,0.44],[3.021,0.5],[3.035,0.38],[3.049,0.47],[3.063,0.42],[3.077,0.53],[3.091,0.36],[3.105,0.45],[3.119,0.49],[3.133,0.4],[3.147,0.55],[3.161,0.43],[3.175,0.35],[3.189,0.46],[3.203,0.51],[3.217,0.39],[3.231,0.48],[3.245,0.44],[3.259,0.56],[3.273,0.41],[3.287,0.33],[3.301,0.47],[3.315,0.42],[3.329,0.52],[3.343,0.38],[3.357,0.45],[3.371,0.49],[3.385,0.36],[3.399,0.44],[3.413,0.5],[3.427,0.41],[3.441,0.34],[3.455,0.47],[3.469,0.53],[3.483,0.39],[3.497,0.45],[3.511,0.42],[3.525,0.51],[3.539,0.37],[3.553,0.46],[3.567,0.4],[3.581,0.33],[3.595,0.48],[3.609,0.43],[3.623,0.54],[3.637,0.38],[3.651,0.45],[3.665,0.41],[3.679,0.5],[3.693,0.35],[3.707,0.44],[3.721,0.39],[3.735,0.47],[3.749,0.32],[3.763,0.43],[3.777,0.51],[3.791,0.37],[3.805,0.45],[3.819,0.4],[3.833,0.49],[3.847,0.34],[3.861,0.42],[3.875,0.37],[3.889,0.46],[3.903,0.31],[3.917,0.41],[3.931,0.5],[3.945,0.36],[3.959,0.44],[3.973,0.39],[3.987,0.47],
[4.003,0.36],[4.014,0.44],[4.026,0.3],[4.037,0.41],[4.048,0.47],[4.059,0.34],[4.071,0.39],[4.082,0.5],[4.093,0.32],[4.104,0.43],[4.116,0.37],[4.127,0.46],[4.138,0.28],[4.149,0.41],[4.161,0.35],[4.172,0.44],[4.183,0.52],[4.194,0.33],[4.206,0.39],[4.217,0.45],[4.228,0.3],[4.239,0.42],[4.251,0.37],[4.262,0.48],[4.273,0.34],[4.284,0.4],[4.296,0.29],[4.307,0.44],[4.318,0.38],[4.329,0.46],[4.341,0.33],[4.352,0.42],[4.363,0.51],[4.374,0.31],[4.386,0.39],[4.397,0.44],[4.408,0.36],[4.419,0.27],[4.431,0.42],[4.442,0.37],[4.453,0.48],[4.464,0.33],[4.476,0.4],[4.487,0.3],[4.498,0.45],[4.509,0.35],[4.521,0.41],[4.532,0.52],[4.543,0.29],[4.554,0.38],[4.566,0.43],[4.577,0.34],[4.588,0.46],[4.599,0.31],[4.611,0.39],[4.622,0.36],[4.633,0.44],[4.644,0.27],[4.656,0.41],[4.667,0.49],[4.678,0.34],[4.689,0.38],[4.701,0.3],[4.712,0.43],[4.723,0.36],[4.734,0.47],[4.746,0.32],[4.757,0.4],[4.768,0.35],[4.779,0.45],[4.791,0.29],[4.802,0.38],[4.813,0.42],[4.824,0.33],[4.836,0.5],[4.847,0.37],[4.858,0.31],[4.869,0.41],[4.881,0.35],[4.892,0.44],[4.903,0.28],[4.914,0.39],[4.926,0.46],[4.937,0.34],[4.948,0.4],[4.959,0.3],[4.971,0.43],[4.982,0.36],[4.993,0.48],
[5.003,0.34],[5.014,0.41],[5.026,0.29],[5.037,0.38],[5.048,0.45],[5.059,0.32],[5.071,0.37],[5.082,0.47],[5.093,0.3],[5.104,0.4],[5.116,0.35],[5.127,0.43],[5.138,0.27],[5.149,0.39],[5.161,0.33],[5.172,0.42],[5.183,0.49],[5.194,0.31],[5.206,0.37],[5.217,0.44],[5.228,0.28],[5.239,0.4],[5.251,0.34],[5.262,0.46],[5.273,0.32],[5.284,0.38],[5.296,0.27],[5.307,0.42],[5.318,0.36],[5.329,0.44],[5.341,0.31],[5.352,0.4],[5.363,0.48],[5.374,0.29],[5.386,0.37],[5.397,0.42],[5.408,0.34],[5.419,0.26],[5.431,0.4],[5.442,0.35],[5.453,0.46],[5.464,0.31],[5.476,0.38],[5.487,0.29],[5.498,0.43],[5.509,0.33],[5.521,0.39],[5.532,0.5],[5.543,0.28],[5.554,0.36],[5.566,0.41],[5.577,0.32],[5.588,0.44],[5.599,0.3],[5.611,0.37],[5.622,0.34],[5.633,0.42],[5.644,0.26],[5.656,0.39],[5.667,0.47],[5.678,0.32],[5.689,0.36],[5.701,0.29],[5.712,0.41],[5.723,0.34],[5.734,0.45],[5.746,0.3],[5.757,0.38],[5.768,0.33],[5.779,0.43],[5.791,0.28],[5.802,0.36],[5.813,0.4],[5.824,0.31],[5.836,0.47],[5.847,0.35],[5.858,0.29],[5.869,0.39],[5.881,0.33],[5.892,0.42],[5.903,0.27],[5.914,0.37],[5.926,0.44],[5.937,0.32],[5.948,0.38],[5.959,0.29],[5.971,0.41],[5.982,0.34],[5.993,0.45],
[6.007,0.33],[6.021,0.4],[6.035,0.28],[6.049,0.36],[6.063,0.43],[6.077,0.31],[6.091,0.38],[6.105,0.46],[6.119,0.3],[6.133,0.35],[6.147,0.41],[6.161,0.27],[6.175,0.37],[6.189,0.32],[6.203,0.44],[6.217,0.34],[6.231,0.39],[6.245,0.26],[6.259,0.36],[6.273,0.42],[6.287,0.31],[6.301,0.38],[6.315,0.33],[6.329,0.47],[6.343,0.29],[6.357,0.36],[6.371,0.4],[6.385,0.3],[6.399,0.35],[6.413,0.43],[6.427,0.27],[6.441,0.38],[6.455,0.33],[6.469,0.41],[6.483,0.3],[6.497,0.36],[6.511,0.45],[6.525,0.28],[6.539,0.37],[6.553,0.32],[6.567,0.4],[6.581,0.34],[6.595,0.26],[6.609,0.38],[6.623,0.43],[6.637,0.3],[6.651,0.36],[6.665,0.33],[6.679,0.41],[6.693,0.28],[6.707,0.37],[6.721,0.31],[6.735,0.44],[6.749,0.35],[6.763,0.29],[6.777,0.39],[6.791,0.33],[6.805,0.42],[6.819,0.27],[6.833,0.36],[6.847,0.31],[6.861,0.4],[6.875,0.34],[6.889,0.25],[6.903,0.38],[6.917,0.43],[6.931,0.3],[6.945,0.35],[6.959,0.28],[6.973,0.4],[6.987,0.33],
[7.012,0.34],[7.034,0.4],[7.056,0.28],[7.078,0.37],[7.1,0.43],[7.122,0.31],[7.144,0.36],[7.166,0.27],[7.188,0.41],[7.21,0.34],[7.232,0.3],[7.254,0.39],[7.276,0.45],[7.298,0.28],[7.32,0.36],[7.342,0.32],[7.364,0.41],[7.386,0.26],[7.408,0.38],[7.43,0.33],[7.452,0.43],[7.474,0.3],[7.496,0.36],[7.518,0.4],[7.54,0.29],[7.562,0.34],[7.584,0.38],[7.606,0.27],[7.628,0.42],[7.65,0.33],[7.672,0.37],[7.694,0.29],[7.716,0.4],[7.738,0.35],[7.76,0.26],[7.782,0.34],[7.804,0.44],[7.826,0.31],[7.848,0.37],[7.87,0.24],[7.892,0.35],[7.914,0.4],[7.936,0.29],[7.958,0.33],[7.98,0.38]
];

// genes flagged as outliers
var outlierX = [6.19, 6.47, 7.52, 8.75, 9.69, 13.81];
var outlierY = [0.187, 0.185, 0.180, 0.176, 0.174, 0.0];

// fitted trend
var trendX = [-0.88, -0.41, 0.11, 0.63, 1.15, 1.67, 2.19, 2.71, 3.23, 3.81, 4.33, 4.85, 5.38, 6.16, 6.94, 7.72, 8.5, 9.28, 10.06, 11.0, 12.0, 13.0, 13.81];
var trendY = [0.724, 0.692, 0.650, 0.617, 0.583, 0.554, 0.525, 0.491, 0.466, 0.448, 0.429, 0.410, 0.391, 0.379, 0.371, 0.364, 0.356, 0.348, 0.341, 0.333, 0.325, 0.317, 0.310];

var xTicks = [0, 5, 10];
var yTicks = [0, 0.5, 1.0, 1.5];
var legendLabels = ["Normal", "Outlier"];
var legendColors = ["#000000", "#ff0000"];

/* layout */
var W = 1200, H = 900;
var box = { left: 123, right: 1137, top: 124, bottom: 746 };
var fontSize = 25;

var svg = d3.select("#sa_plot")
    .append("svg")
    .attr("width", W)
    .attr("height", H);

svg.append("rect")
    .attr("width", W)
    .attr("height", H)
    .attr("fill", "#fff");

var x = d3.scaleLinear()
    .domain([-1.45, 14.39])
    .range([box.left, box.right]);

var y = d3.scaleLinear()
    .domain([-0.0575, 1.5])
    .range([box.bottom, box.top]);

// points
var pts = normalSparse.concat(normalCore, normalDense);
svg.append("g")
    .selectAll("circle")
    .data(pts)
    .enter()
    .append("circle")
    .attr("cx", function (d) { return x(d[0]) })
    .attr("cy", function (d) { return y(d[1]) })
    .attr("r", 1.5)
    .attr("fill", "#000");

svg.append("g")
    .selectAll("circle")
    .data(outlierX)
    .enter()
    .append("circle")
    .attr("cx", function (d) { return x(d) })
    .attr("cy", function (d, i) { return y(outlierY[i]) })
    .attr("r", 1.5)
    .attr("fill", "#ff0000");

// trend line
svg.append("path")
    .datum(trendX)
    .attr("fill", "none")
    .attr("stroke", "#0000ff")
    .attr("stroke-width", 1.6)
    .attr("d", d3.line()
        .curve(d3.curveMonotoneX)
        .x(function (d) { return x(d) })
        .y(function (d, i) { return y(trendY[i]) })
    );

// frame
svg.append("rect")
    .attr("x", box.left)
    .attr("y", box.top)
    .attr("width", box.right - box.left)
    .attr("height", box.bottom - box.top)
    .attr("fill", "none")
    .attr("stroke", "#000")
    .attr("stroke-width", 1.3);

// X axis
var gx = svg.append("g")
    .attr("transform", "translate(0," + box.bottom + ")")
    .call(d3.axisBottom(x).tickValues(xTicks).tickSize(15).tickSizeOuter(0).tickFormat(d3.format("d")));
gx.select(".domain")
    .attr("d", "M" + x(xTicks[0]) + ",0H" + x(xTicks[xTicks.length - 1]));
gx.selectAll("line").attr("stroke", "#000").attr("stroke-width", 1.3);
gx.selectAll("text")
    .attr("y", 55)
    .attr("dy", null)
    .attr("fill", "#000")
    .style("font-size", fontSize + "px");

// Y axis, rotated labels like base R
var gy = svg.append("g")
    .attr("transform", "translate(" + box.left + ",0)")
    .call(d3.axisLeft(y).tickValues(yTicks).tickSize(15).tickSizeOuter(0).tickFormat(d3.format(".1f")));
gy.select(".domain")
    .attr("d", "M0," + y(yTicks[0]) + "V" + y(yTicks[yTicks.length - 1]));
gy.selectAll("line").attr("stroke", "#000").attr("stroke-width", 1.3);
gy.selectAll("text")
    .attr("x", null)
    .attr("dy", null)
    .attr("text-anchor", "middle")
    .attr("transform", "translate(-43,0) rotate(-90)")
    .attr("fill", "#000")
    .style("font-size", fontSize + "px");

// axis titles
svg.append("text")
    .attr("x", (box.left + box.right) / 2)
    .attr("y", 860)
    .attr("text-anchor", "middle")
    .style("font-size", fontSize + "px")
    .text("Average log-expression");

svg.append("text")
    .attr("transform", "translate(27," + (box.top + box.bottom) / 2 + ") rotate(-90)")
    .attr("text-anchor", "middle")
    .style("font-size", fontSize + "px")
    .text("sqrt(sigma)");

// legend
var legend = svg.append("g");
legend.append("rect")
    .attr("x", 1000)
    .attr("y", box.top)
    .attr("width", box.right - 1000)
    .attr("height", 212 - box.top)
    .attr("fill", "#fff")
    .attr("stroke", "#000")
    .attr("stroke-width", 1.3);

var item = legend.selectAll(".item")
    .data(legendLabels)
    .enter()
    .append("g")
    .attr("class", "item")
    .attr("transform", function (d, i) { return "translate(0," + (153 + i * 30) + ")" });
item.append("circle")
    .attr("cx", 1023)
    .attr("cy", 0)
    .attr("r", 5)
    .attr("fill", function (d, i) { return legendColors[i] });
item.append("text")
    .attr("x", 1045)
    .attr("y", 9)
    .style("font-size", fontSize + "px")
    .text(function (d) { return d });
</script>
</body>
</html>
